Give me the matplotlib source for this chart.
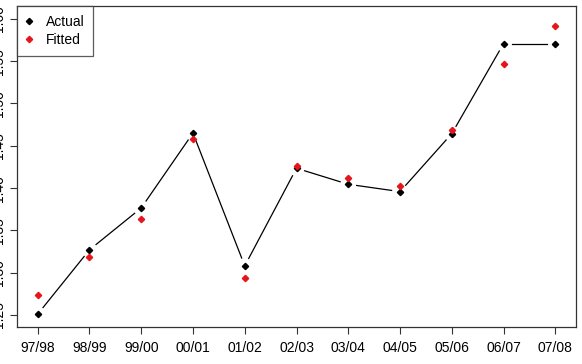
import matplotlib
matplotlib.use("Agg")
import matplotlib.pyplot as plt
import numpy as np

# seasons on the x axis
seasons = ["97/98", "98/99", "99/00", "00/01", "01/02", "02/03",
           "03/04", "04/05", "05/06", "06/07", "07/08"]

# values
actual = [1.251, 1.327, 1.3765, 1.465, 1.308, 1.4234,
          1.4045, 1.3958, 1.4643, 1.5707, 1.5707]
fitted = [1.274, 1.319, 1.3635, 1.458, 1.294, 1.4258,
          1.4116, 1.4025, 1.4683, 1.5467, 1.592]

yticks = [1.25, 1.30, 1.35, 1.40, 1.45, 1.50, 1.55, 1.60]

plt.rcParams['font.family'] = ['Liberation Sans', 'DejaVu Sans']

fig = plt.figure(figsize=(5.82, 3.64), dpi=100)
ax = fig.add_axes([17/582, 1 - 327/364, (576 - 17)/582, (327 - 6)/364])

x = np.arange(len(seasons))

ax.set_xlim(-0.4, 10.4)
ax.set_ylim(1.2358, 1.6152)

# R style type="b": segments stop short of each point
gap = 0.085 * fig.dpi  # gap in display pixels
pts = ax.transData.transform(np.column_stack([x, actual]))
inv = ax.transData.inverted()
for p0, p1 in zip(pts[:-1], pts[1:]):
    d = p1 - p0
    n = np.hypot(*d)
    a = inv.transform(p0 + d / n * gap)
    b = inv.transform(p1 - d / n * gap)
    ax.plot([a[0], b[0]], [a[1], b[1]], color='black', lw=0.9, zorder=1)

ax.plot(x, actual, ls='none', marker='D', ms=3.2, color='black', zorder=3, label='Actual')
ax.plot(x, fitted, ls='none', marker='D', ms=3.2, color='#e8141c', zorder=4, label='Fitted')

ax.set_xticks(x)
ax.set_xticklabels(seasons, fontsize=10)
ax.set_yticks(yticks)
ax.set_yticklabels(["%.2f" % v for v in yticks], fontsize=10, rotation=90, va='center')
ax.tick_params(axis='both', direction='out', length=5, width=0.8, color='#333333')
ax.tick_params(axis='x', pad=5)
ax.tick_params(axis='y', pad=3)

for s in ax.spines.values():
    s.set_linewidth(0.9)
    s.set_color('#333333')

leg = ax.legend(loc='upper left', fontsize=10, frameon=True, fancybox=False,
                borderaxespad=0, handletextpad=1.0, handlelength=0.4,
                borderpad=0.65, labelspacing=0.3)
leg.get_frame().set_edgecolor('#333333')
leg.get_frame().set_linewidth(0.9)

fig.savefig("out.png", dpi=100)
